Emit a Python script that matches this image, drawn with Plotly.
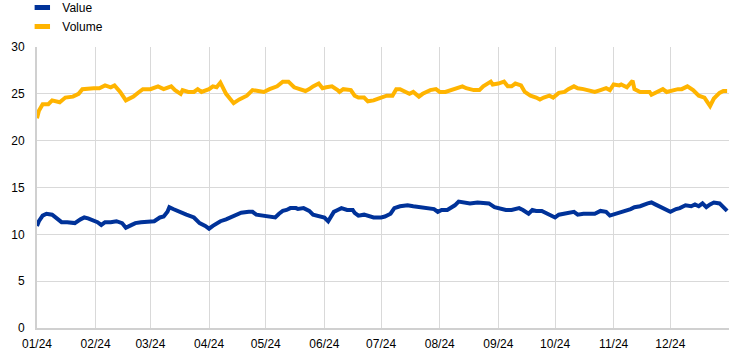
import numpy as np
import plotly.graph_objects as go

# Day offsets from 2024-01-01 and readings
volume_days = [0, 1, 3, 6, 8, 12, 15, 19, 22, 24, 30, 33, 36, 39, 41, 44, 47, 51, 54, 56,
               60, 64, 67, 69, 71, 73, 76, 77, 80, 83, 85, 87, 91, 93, 95, 97, 100, 104, 107, 111,
               114, 117, 120, 123, 127, 130, 133, 136, 139, 142, 144, 146, 149, 151, 153, 156, 159, 160, 162, 164,
               166, 168, 170, 173, 175, 178, 180, 182, 185, 188, 190, 192, 195, 197, 199, 202, 204, 208, 211, 213,
               216, 219, 222, 225, 227, 231, 234, 236, 240, 241, 244, 247, 249, 251, 253, 256, 258, 261, 264, 266,
               268, 271, 273, 276, 279, 281, 284, 286, 289, 293, 295, 298, 301, 303, 305, 308, 309, 312, 315, 316,
               319, 322, 324, 325, 328, 331, 333, 336, 339, 341, 344, 347, 350, 353, 355, 356, 358, 361, 363, 365]
volume = [22.4, 23.2, 23.9, 23.9, 24.3, 24.1, 24.6, 24.7, 25.0, 25.5, 25.6, 25.6, 25.9, 25.7, 25.9, 25.2, 24.3, 24.7, 25.2, 25.5,
          25.5, 25.8, 25.5, 25.7, 25.8, 25.4, 25.0, 25.4, 25.2, 25.2, 25.5, 25.2, 25.5, 25.8, 25.7, 26.2, 25.0, 24.0, 24.4, 24.8,
          25.4, 25.3, 25.2, 25.5, 25.8, 26.3, 26.3, 25.7, 25.5, 25.3, 25.5, 25.8, 26.1, 25.6, 25.7, 25.8, 25.4, 25.2, 25.5, 25.4,
          25.4, 24.8, 24.6, 24.6, 24.2, 24.3, 24.4, 24.6, 24.8, 24.8, 25.5, 25.5, 25.2, 25.0, 25.2, 24.7, 25.0, 25.4, 25.5, 25.2,
          25.2, 25.4, 25.7, 25.8, 25.6, 25.4, 25.4, 25.8, 26.3, 26.0, 26.1, 26.3, 25.8, 25.8, 26.1, 25.9, 25.2, 24.8, 24.6, 24.4,
          24.6, 24.8, 24.6, 25.1, 25.2, 25.5, 25.8, 25.6, 25.5, 25.3, 25.2, 25.4, 25.6, 25.4, 26.0, 25.9, 26.0, 25.7, 26.4, 25.5,
          25.2, 25.2, 25.2, 24.9, 25.2, 25.5, 25.2, 25.4, 25.5, 25.5, 25.8, 25.4, 24.8, 24.6, 24.1, 23.7, 24.5, 25.1, 25.3, 25.3]

value_days = [0, 1, 3, 5, 8, 10, 13, 16, 18, 20, 23, 25, 27, 30, 32, 34, 36, 39, 42, 45,
              47, 49, 52, 55, 57, 60, 62, 65, 67, 69, 70, 72, 73, 76, 79, 83, 86, 89, 91, 93,
              97, 100, 103, 106, 108, 112, 114, 116, 120, 123, 126, 128, 130, 132, 134, 137, 138, 141, 144, 146,
              149, 152, 154, 155, 157, 159, 161, 164, 167, 168, 170, 173, 175, 178, 182, 184, 187, 189, 192, 196,
              199, 203, 206, 210, 212, 214, 217, 219, 221, 223, 226, 229, 233, 236, 239, 242, 245, 248, 251, 255,
              257, 260, 262, 264, 267, 270, 271, 274, 276, 279, 284, 286, 289, 293, 295, 298, 301, 303, 306, 309,
              311, 314, 316, 319, 323, 325, 327, 330, 332, 335, 338, 340, 343, 346, 348, 350, 352, 354, 356, 358,
              361, 363, 365]
value = [10.9, 11.4, 12.0, 12.2, 12.1, 11.8, 11.3, 11.3, 11.2, 11.2, 11.6, 11.8, 11.7, 11.5, 11.3, 11.0, 11.3, 11.3, 11.4, 11.2,
         10.7, 10.9, 11.2, 11.3, 11.3, 11.4, 11.4, 11.8, 11.9, 12.4, 12.9, 12.7, 12.6, 12.3, 12.1, 11.8, 11.2, 10.9, 10.6, 10.9,
         11.4, 11.6, 11.9, 12.2, 12.3, 12.4, 12.4, 12.1, 12.0, 11.9, 11.8, 12.2, 12.5, 12.6, 12.8, 12.8, 12.7, 12.8, 12.5, 12.1,
         12.0, 11.8, 11.4, 11.8, 12.4, 12.6, 12.8, 12.6, 12.6, 12.3, 12.0, 12.1, 12.0, 11.8, 11.8, 11.9, 12.2, 12.8, 13.0, 13.1,
         13.0, 12.9, 12.9, 12.7, 12.4, 12.6, 12.6, 12.8, 13.1, 13.5, 13.4, 13.3, 13.4, 13.4, 13.3, 12.9, 12.7, 12.6, 12.6, 12.8,
         12.6, 12.2, 12.6, 12.5, 12.5, 12.2, 12.0, 11.8, 12.1, 12.2, 12.4, 12.1, 12.2, 12.2, 12.2, 12.5, 12.4, 12.0, 12.2, 12.3,
         12.5, 12.7, 12.9, 13.0, 13.3, 13.4, 13.2, 12.9, 12.7, 12.4, 12.7, 12.8, 13.1, 13.0, 13.2, 13.0, 13.3, 12.9, 13.2, 13.4,
         13.3, 12.9, 12.5]

month_ticks = ["2024-%02d-01" % m for m in range(1, 13)] + ["2025-01-01"]
month_labels = ["%02d/24" % m for m in range(1, 13)] + [""]

start = np.datetime64("2024-01-01")
x_volume = start + np.array(volume_days).astype("timedelta64[D]")
x_value = start + np.array(value_days).astype("timedelta64[D]")

BLUE = "#003299"
YELLOW = "#FFB400"
FONT = "Arial, Liberation Sans, sans-serif"

fig = go.Figure()
fig.add_trace(go.Scatter(x=x_volume, y=volume, mode="lines", line=dict(color=YELLOW, width=4),
                         showlegend=False, legendgroup="vol"))
fig.add_trace(go.Scatter(x=x_value, y=value, mode="lines", line=dict(color=BLUE, width=4),
                         showlegend=False, legendgroup="val"))
# legend entries
fig.add_trace(go.Scatter(x=[None], y=[None], mode="markers", name="Value", legendgroup="val",
                         marker=dict(symbol="line-ew", size=11, line=dict(color=BLUE, width=5))))
fig.add_trace(go.Scatter(x=[None], y=[None], mode="markers", name="Volume", legendgroup="vol",
                         marker=dict(symbol="line-ew", size=11, line=dict(color=YELLOW, width=5))))

fig.update_layout(
    width=744, height=357,
    margin=dict(l=37, r=15, t=47, b=29, autoexpand=False),
    paper_bgcolor="white", plot_bgcolor="white",
    font=dict(family=FONT, size=12, color="#000000"),
    legend=dict(xref="container", yref="paper", x=0.03, y=1.192, xanchor="left", yanchor="top",
                orientation="v", bgcolor="rgba(0,0,0,0)", font=dict(size=12), tracegroupgap=0),
    showlegend=True,
)
fig.update_xaxes(
    type="date", range=["2024-01-01", "2025-01-01"],
    tickvals=month_ticks, ticktext=month_labels,
    showgrid=True, gridcolor="#d9d9d9", gridwidth=1,
    showline=True, linecolor="#d0d0d0", linewidth=2,
    ticks="", ticklabelstandoff=4, zeroline=False,
    tickfont=dict(size=12, color="#000000"),
)
fig.update_yaxes(
    range=[0, 30], tick0=0, dtick=5,
    showgrid=True, gridcolor="#d9d9d9", gridwidth=1,
    showline=True, linecolor="#d0d0d0", linewidth=2,
    ticks="", ticklabelstandoff=8, zeroline=False,
    tickfont=dict(size=12, color="#000000"),
)

fig.write_html("out.html", config={"displayModeBar": False},
               post_script="document.body.style.margin='0px';")
